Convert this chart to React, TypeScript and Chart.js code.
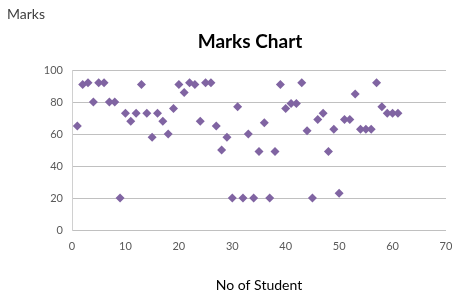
import React, { useEffect, useRef } from "react";
import { Chart, registerables } from "chart.js";

Chart.register(...registerables);

const students: number[] = [
  1, 2, 3, 4, 5, 6, 7, 8, 9, 10, 11, 12, 13, 14, 15, 16, 17, 18, 19, 20,
  21, 22, 23, 24, 25, 26, 27, 28, 29, 30, 31, 32, 33, 34, 35, 36, 37, 38, 39, 40,
  41, 42, 43, 44, 45, 46, 47, 48, 49, 50, 51, 52, 53, 54, 55, 56, 57, 58, 59, 60, 61,
];
const marks: number[] = [
  65, 91, 92, 80, 92, 92, 80, 80, 20, 73, 68, 73, 91, 73, 58, 73, 68, 60, 76, 91,
  86, 92, 91, 68, 92, 92, 65, 50, 58, 20, 77, 20, 60, 20, 49, 67, 20, 49, 91, 76,
  79, 79, 92, 62, 20, 69, 73, 49, 63, 23, 69, 69, 85, 63, 63, 63, 92, 77, 73, 73, 73,
];
const chartTitle = "Marks Chart";
const cornerLabel = "Marks";
const xAxisTitle = "No of Student";

const FONT = "Lato, 'Open Sans', sans-serif";

export default function App() {
  const ref = useRef<HTMLCanvasElement | null>(null);
  useEffect(() => {
    if (!ref.current) return;
    const textPlugin = {
      id: "texts",
      afterDraw(chart: any) {
        const ctx = chart.ctx;
        ctx.save();
        ctx.textBaseline = "middle";
        ctx.fillStyle = "#404040";
        ctx.font = `14px ${FONT}`;
        ctx.textAlign = "left";
        ctx.fillText(cornerLabel, 7, 14);
        ctx.fillStyle = "#000000";
        ctx.font = `bold 19px ${FONT}`;
        ctx.textAlign = "center";
        ctx.fillText(chartTitle, 250, 42);
        ctx.restore();
      },
    };
    const chart = new Chart(ref.current, {
      type: "scatter",
      data: {
        datasets: [
          {
            data: students.map((s, i) => ({ x: s, y: marks[i] })),
            backgroundColor: "#8064a2",
            borderColor: "#8064a2",
            pointStyle: "rectRot",
            pointRadius: 4.5,
            borderWidth: 0,
          },
        ],
      },
      options: {
        animation: false,
        responsive: false,
        devicePixelRatio: 1,
        layout: { padding: { top: 70, left: 0, right: 6, bottom: 0 } },
        plugins: {
          legend: { display: false },
          tooltip: { enabled: false },
          title: { display: false },
        },
        scales: {
          x: {
            type: "linear",
            min: 0,
            max: 70,
            afterFit: (s: any) => {
              s.height = 65;
              s.paddingRight = 0;
              s.paddingLeft = 0;
            },
            ticks: {
              stepSize: 10,
              padding: 10,
              color: "#595959",
              font: { family: FONT, size: 11 },
            },
            grid: { display: false, drawTicks: false },
            border: { display: false },
            title: {
              display: true,
              text: xAxisTitle,
              color: "#000000",
              font: { family: FONT, size: 14 },
              padding: { top: 0, bottom: 1 },
            },
          },
          y: {
            min: 0,
            max: 100,
            afterFit: (s: any) => {
              s.width = 72;
              s.paddingTop = 0;
              s.paddingBottom = 0;
            },
            ticks: {
              stepSize: 20,
              padding: 9,
              color: "#595959",
              font: { family: FONT, size: 11 },
            },
            grid: { color: "#c0c0c0", drawTicks: false, lineWidth: 1 },
            border: { display: true, color: "#d0d0d0" },
          },
        },
      },
      plugins: [textPlugin],
    } as any);
    return () => chart.destroy();
  }, []);
  return (
    <div style={{ position: "absolute", left: 0, top: 0, width: 452, height: 295, background: "#fff" }}>
      <canvas ref={ref} width={452} height={295} />
    </div>
  );
}
